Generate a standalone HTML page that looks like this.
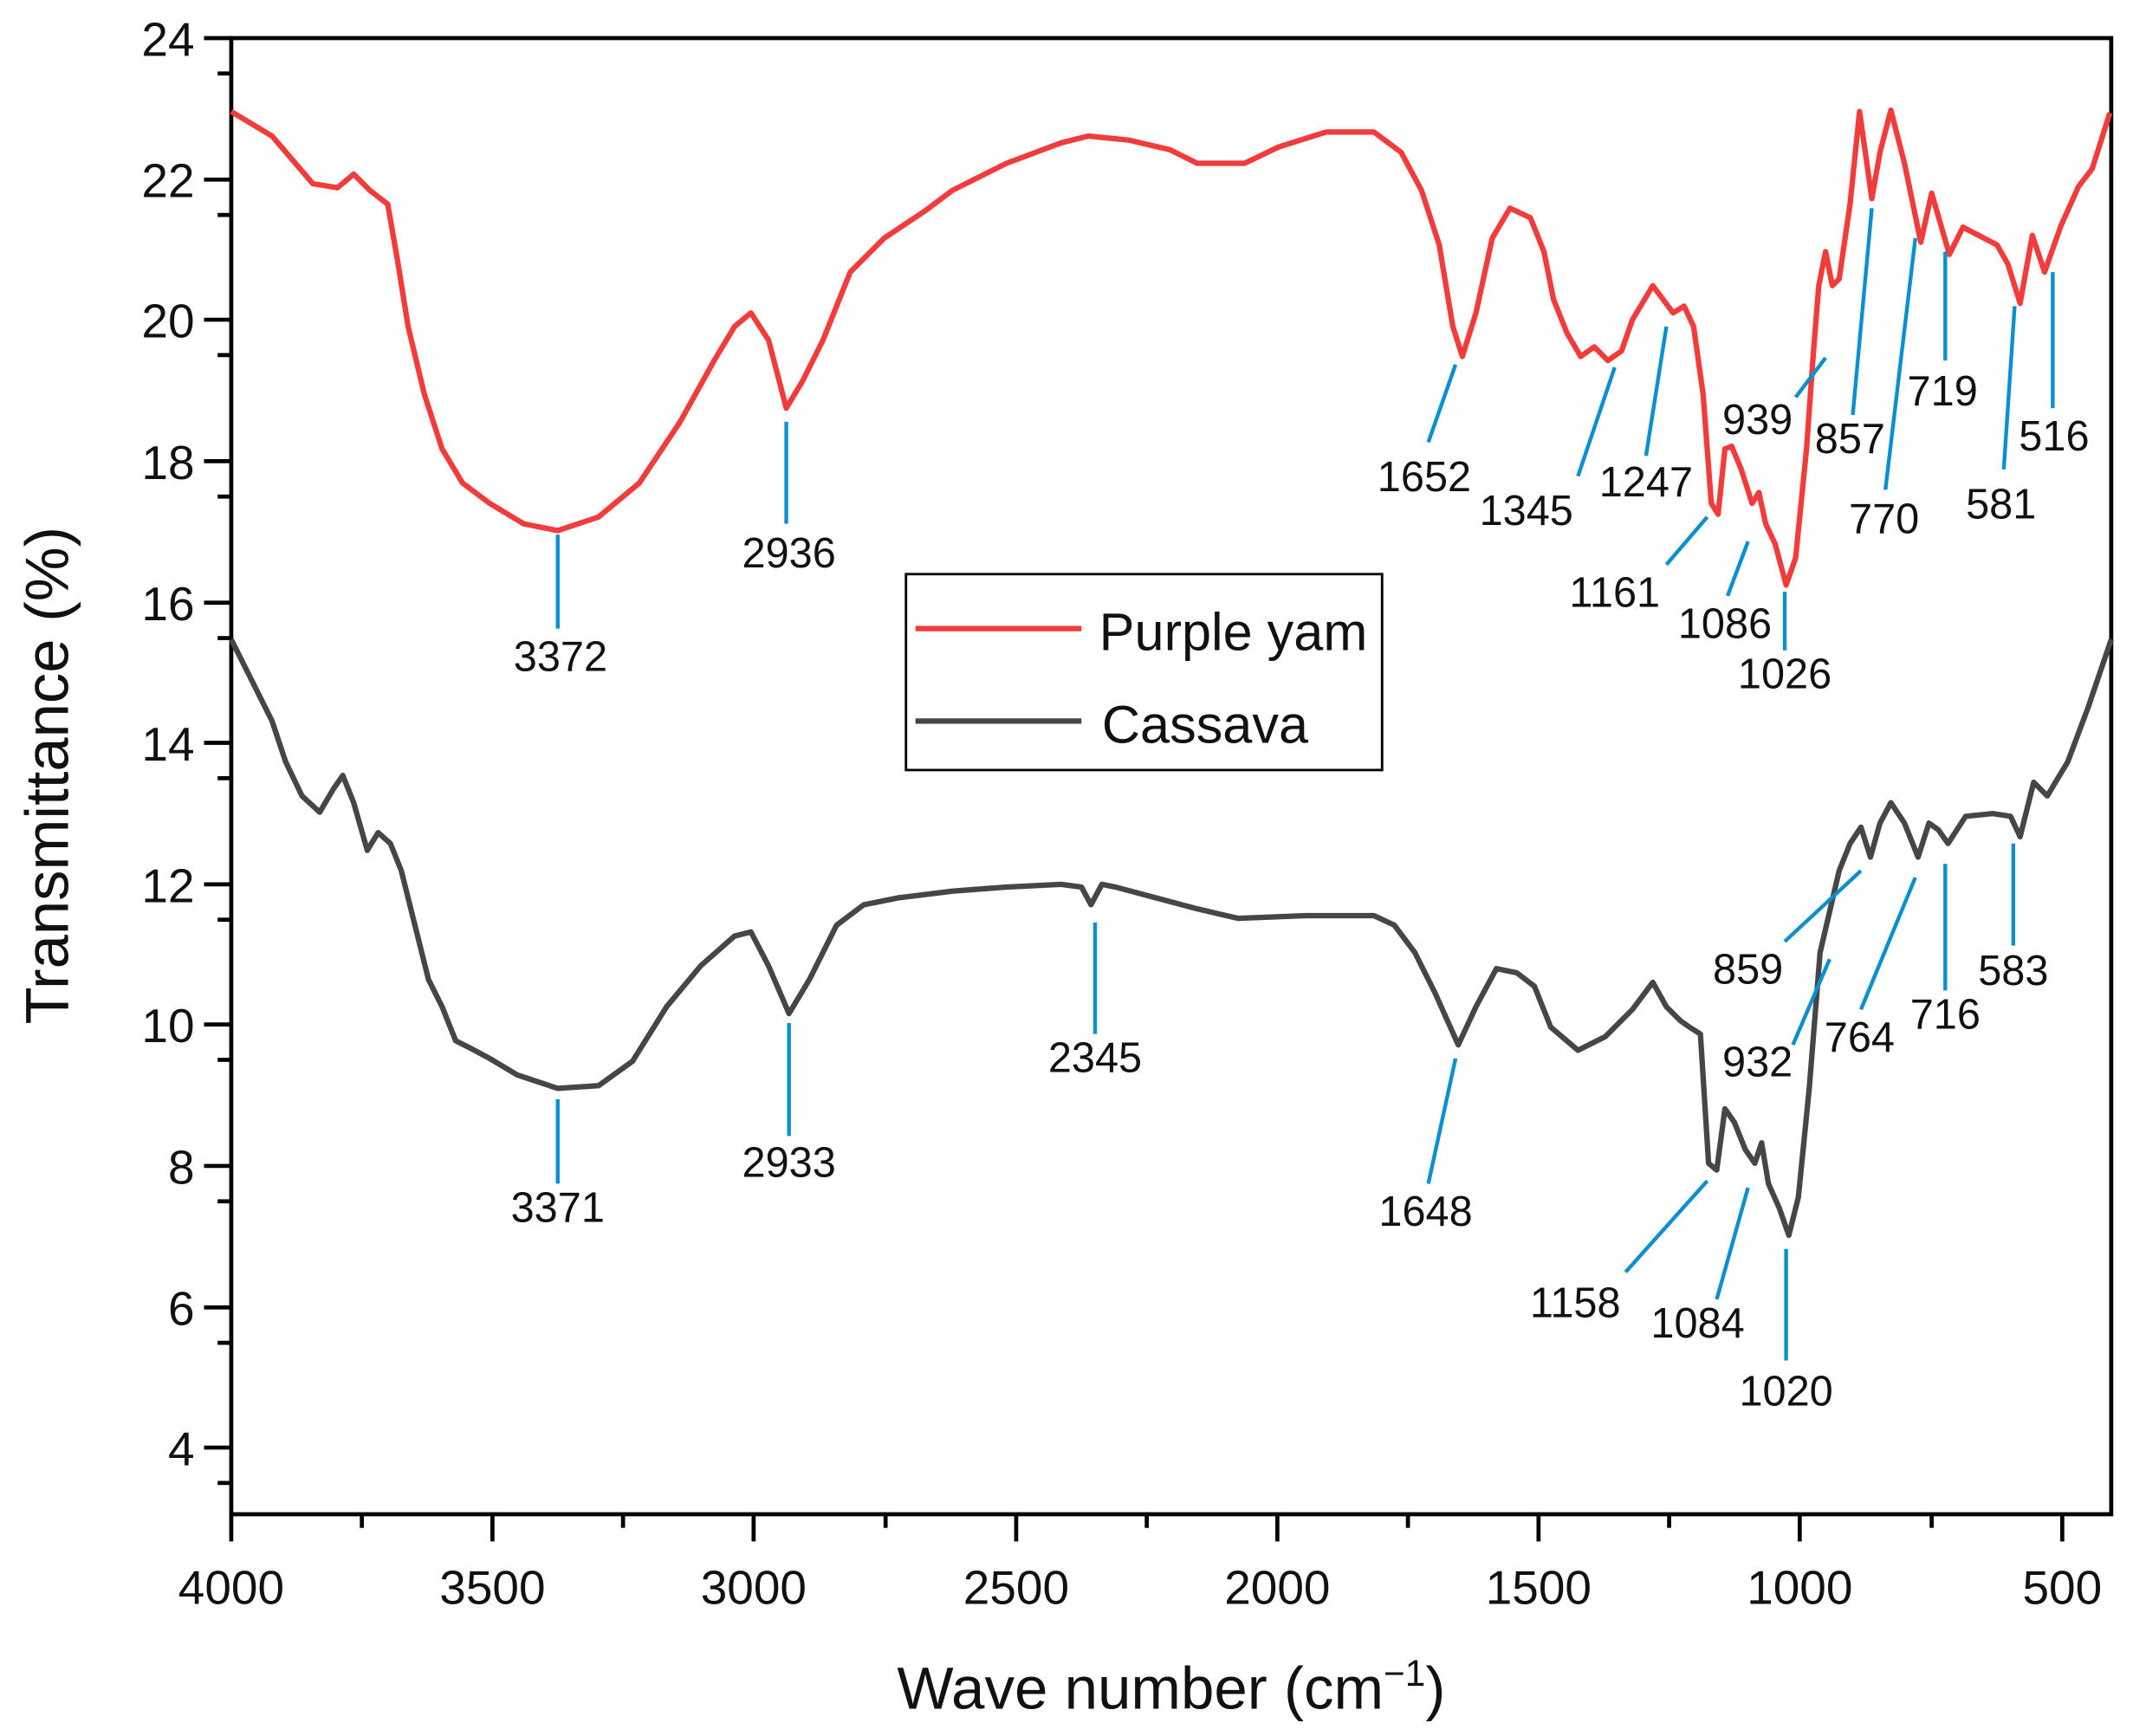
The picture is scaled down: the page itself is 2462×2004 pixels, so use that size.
<!DOCTYPE html>
<html><head><meta charset="utf-8"><style>
html,body{margin:0;padding:0;background:#fff;}
svg{display:block;}
text{font-family:"Liberation Sans",Arial,sans-serif;fill:#111;}
</style></head><body>
<svg width="2462" height="2004" viewBox="0 0 1568 1276" preserveAspectRatio="none" xmlns="http://www.w3.org/2000/svg">
<rect x="0" y="0" width="1568" height="1276" fill="#fff"/>
<rect x="170" y="28" width="1382" height="1085" fill="none" stroke="#000" stroke-width="3"/>
<g stroke="#000" stroke-width="3">
<line x1="150" y1="28" x2="170" y2="28"/><line x1="160" y1="54" x2="170" y2="54"/>
<line x1="150" y1="132" x2="170" y2="132"/><line x1="160" y1="158" x2="170" y2="158"/>
<line x1="150" y1="235" x2="170" y2="235"/><line x1="160" y1="261" x2="170" y2="261"/>
<line x1="150" y1="339" x2="170" y2="339"/><line x1="160" y1="365" x2="170" y2="365"/>
<line x1="150" y1="443" x2="170" y2="443"/><line x1="160" y1="469" x2="170" y2="469"/>
<line x1="150" y1="546" x2="170" y2="546"/><line x1="160" y1="572" x2="170" y2="572"/>
<line x1="150" y1="650" x2="170" y2="650"/><line x1="160" y1="676" x2="170" y2="676"/>
<line x1="150" y1="753" x2="170" y2="753"/><line x1="160" y1="779" x2="170" y2="779"/>
<line x1="150" y1="857" x2="170" y2="857"/><line x1="160" y1="883" x2="170" y2="883"/>
<line x1="150" y1="961" x2="170" y2="961"/><line x1="160" y1="987" x2="170" y2="987"/>
<line x1="150" y1="1064" x2="170" y2="1064"/><line x1="160" y1="1090" x2="170" y2="1090"/>
</g>
<g font-size="35" text-anchor="end">
<text x="143" y="41">24</text><text x="143" y="145">22</text><text x="143" y="248">20</text>
<text x="143" y="352">18</text><text x="143" y="456">16</text><text x="143" y="559">14</text>
<text x="143" y="663">12</text><text x="143" y="766">10</text><text x="143" y="870">8</text>
<text x="143" y="974">6</text><text x="143" y="1077">4</text>
</g>
<g stroke="#000" stroke-width="3">
<line x1="170" y1="1113" x2="170" y2="1133"/><line x1="266" y1="1113" x2="266" y2="1123"/>
<line x1="362" y1="1113" x2="362" y2="1133"/><line x1="458" y1="1113" x2="458" y2="1123"/>
<line x1="554" y1="1113" x2="554" y2="1133"/><line x1="651" y1="1113" x2="651" y2="1123"/>
<line x1="747" y1="1113" x2="747" y2="1133"/><line x1="843" y1="1113" x2="843" y2="1123"/>
<line x1="939" y1="1113" x2="939" y2="1133"/><line x1="1035" y1="1113" x2="1035" y2="1123"/>
<line x1="1131" y1="1113" x2="1131" y2="1133"/><line x1="1227" y1="1113" x2="1227" y2="1123"/>
<line x1="1323" y1="1113" x2="1323" y2="1133"/><line x1="1420" y1="1113" x2="1420" y2="1123"/>
<line x1="1516" y1="1113" x2="1516" y2="1133"/>
</g>
<g font-size="35" text-anchor="middle">
<text x="170" y="1179">4000</text><text x="362" y="1179">3500</text><text x="554" y="1179">3000</text>
<text x="747" y="1179">2500</text><text x="939" y="1179">2000</text><text x="1131" y="1179">1500</text>
<text x="1323" y="1179">1000</text><text x="1516" y="1179">500</text>
</g>
<text x="861" y="1256" font-size="44" text-anchor="middle">Wave number (cm<tspan dy="-17" font-size="27">−1</tspan><tspan dy="17">)</tspan></text>
<text transform="translate(50,570) rotate(-90)" font-size="45" text-anchor="middle">Transmittance (%)</text>

<polyline fill="none" stroke="#f23c3c" stroke-width="4" stroke-linejoin="round" points="170,82 200,100 230,135 248,138 260,128 272,140 285,150 292,190 300,240 312,290 325,330 340,355 360,370 385,385 410,390 440,380 470,355 500,310 525,265 540,240 552,230 565,250 578,300 590,280 605,250 625,200 650,175 680,155 700,140 740,120 780,105 800,100 830,103 860,110 880,120 915,120 940,108 975,97 1010,97 1030,112 1045,140 1058,180 1068,240 1075,262 1085,230 1097,175 1110,153 1125,160 1135,185 1142,220 1152,245 1162,262 1172,255 1182,265 1192,258 1200,235 1215,210 1230,230 1238,225 1245,240 1252,290 1258,370 1263,378 1268,330 1273,328 1280,345 1288,370 1293,362 1298,385 1305,400 1313,430 1320,410 1328,330 1333,260 1337,210 1342,185 1347,210 1352,205 1360,150 1367,82 1376,146 1382,112 1390,81 1400,120 1412,178 1420,142 1433,187 1443,167 1468,180 1476,194 1485,223 1494,173 1503,200 1515,166 1528,137 1538,124 1551,83"/>
<polyline fill="none" stroke="#464646" stroke-width="4" stroke-linejoin="round" points="170,470 185,500 200,530 210,560 222,585 235,597 245,580 252,570 260,590 270,625 278,612 287,620 295,640 305,680 315,720 325,740 335,765 345,770 360,778 380,790 410,800 440,798 465,780 490,740 515,710 540,688 552,685 565,710 580,745 595,720 615,680 635,665 660,660 700,655 740,652 780,650 795,652 802,665 810,650 820,652 850,660 880,668 910,675 960,673 1010,673 1025,680 1040,700 1055,730 1072,768 1085,740 1100,712 1115,715 1128,725 1140,755 1160,772 1180,762 1200,742 1215,722 1225,740 1235,750 1242,755 1250,760 1256,855 1262,860 1268,815 1275,825 1283,845 1290,855 1295,840 1300,870 1308,888 1315,908 1322,880 1330,800 1338,700 1345,670 1352,640 1360,620 1368,608 1375,630 1382,605 1390,590 1400,605 1410,630 1418,605 1425,610 1432,620 1445,600 1465,598 1478,600 1485,615 1495,575 1505,585 1520,560 1535,520 1552,470"/>

<g stroke="#0a90d0" stroke-width="2.8">
<line x1="410" y1="393" x2="410" y2="462"/>
<line x1="578" y1="310" x2="578" y2="385"/>
<line x1="1070" y1="268" x2="1050" y2="325"/>
<line x1="1187" y1="270" x2="1160" y2="350"/>
<line x1="1225" y1="240" x2="1210" y2="335"/>
<line x1="1255" y1="380" x2="1225" y2="415"/>
<line x1="1285" y1="398" x2="1270" y2="438"/>
<line x1="1312" y1="435" x2="1312" y2="478"/>
<line x1="1342" y1="263" x2="1320" y2="292"/>
<line x1="1376" y1="153" x2="1362" y2="305"/>
<line x1="1408" y1="175" x2="1386" y2="360"/>
<line x1="1430" y1="185" x2="1430" y2="265"/>
<line x1="1481" y1="225" x2="1473" y2="345"/>
<line x1="1509" y1="200" x2="1509" y2="300"/>
<line x1="410" y1="808" x2="410" y2="870"/>
<line x1="580" y1="752" x2="580" y2="835"/>
<line x1="805" y1="678" x2="805" y2="760"/>
<line x1="1070" y1="778" x2="1050" y2="870"/>
<line x1="1255" y1="868" x2="1195" y2="935"/>
<line x1="1285" y1="873" x2="1262" y2="955"/>
<line x1="1313" y1="918" x2="1313" y2="1000"/>
<line x1="1368" y1="640" x2="1312" y2="692"/>
<line x1="1345" y1="705" x2="1318" y2="768"/>
<line x1="1408" y1="645" x2="1368" y2="742"/>
<line x1="1430" y1="635" x2="1430" y2="728"/>
<line x1="1480" y1="620" x2="1480" y2="695"/>
</g>
<g font-size="31" text-anchor="middle">
<text x="412" y="493">3372</text><text x="580" y="417">2936</text><text x="1047" y="361">1652</text>
<text x="1122" y="386">1345</text><text x="1210" y="365">1247</text><text x="1187" y="446">1161</text>
<text x="1268" y="469">1086</text><text x="1312" y="506">1026</text><text x="1292" y="319">939</text>
<text x="1360" y="333">857</text><text x="1385" y="392">770</text><text x="1428" y="298">719</text>
<text x="1471" y="381">581</text><text x="1510" y="331">516</text>
<text x="410" y="898">3371</text><text x="580" y="865">2933</text><text x="805" y="788">2345</text>
<text x="1048" y="901">1648</text><text x="1158" y="968">1158</text><text x="1248" y="983">1084</text>
<text x="1313" y="1033">1020</text><text x="1285" y="723">859</text><text x="1292" y="791">932</text>
<text x="1367" y="773">764</text><text x="1430" y="756">716</text><text x="1480" y="724">583</text>
</g>

<rect x="666" y="422" width="350" height="144" fill="#fff" stroke="#000" stroke-width="1.8"/>
<line x1="673" y1="462" x2="795" y2="462" stroke="#f23c3c" stroke-width="4"/>
<line x1="673" y1="530" x2="795" y2="530" stroke="#464646" stroke-width="4"/>
<text x="808" y="478" font-size="39">Purple yam</text>
<text x="810" y="546" font-size="39">Cassava</text>
</svg>
</body></html>
